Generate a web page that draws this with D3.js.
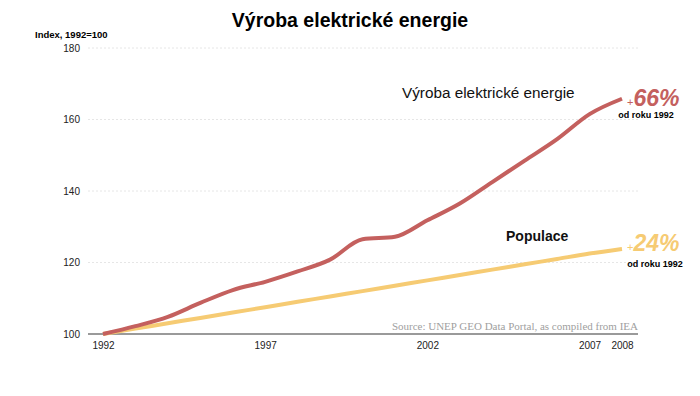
<!DOCTYPE html>
<html>
<head>
<meta charset="utf-8">
<script src="https://cdn.jsdelivr.net/npm/d3@7"></script>
<style>
  body { margin: 0; background: #fff; }
  text { font-family: "Liberation Sans", Arial, sans-serif; }
</style>
</head>
<body>
<svg id="chart" width="700" height="396"></svg>
<script>
var years = [1992, 1993, 1994, 1995, 1996, 1997, 1998, 1999, 2000,
             2001, 2002, 2003, 2004, 2005, 2006, 2007, 2008];
var elektrina = [100, 102.2, 104.8, 108.7, 112.3, 114.6, 117.5, 120.8, 126.5,
                 127.2, 131.8, 136.5, 142.5, 148.5, 154.5, 161.5, 165.8];
var populace = [100, 101.5, 103, 104.5, 106, 107.5, 109, 110.5, 112,
                113.5, 115, 116.5, 118, 119.5, 121, 122.5, 123.8];
var yTicks = [100, 120, 140, 160, 180];
var xTicks = [1992, 1997, 2002, 2007, 2008];

var svg = d3.select('#chart');

var x = d3.scaleLinear().domain([1992, 2008]).range([103, 622]);
var y = d3.scaleLinear().domain([100, 180]).range([334, 48]);

// title
svg.append('text').attr('x', 350).attr('y', 27).attr('text-anchor', 'middle')
  .style('font-size', '19.5px').style('font-weight', 'bold').text('Výroba elektrické energie');

svg.append('text').attr('x', 35).attr('y', 38)
  .style('font-size', '9.5px').style('font-weight', 'bold').text('Index, 1992=100');

// grid
svg.append('g').selectAll('line').data(yTicks.slice(1)).enter().append('line')
  .attr('x1', 88).attr('x2', 640)
  .attr('y1', function(d) { return y(d); }).attr('y2', function(d) { return y(d); })
  .attr('stroke', '#e6e6e6').attr('stroke-dasharray', '2,2');

// y axis
var yAxis = d3.axisLeft(y).tickValues(yTicks).tickSize(0).tickPadding(0);
var gy = svg.append('g').attr('transform', 'translate(80,0)').call(yAxis);
gy.select('.domain').remove();
gy.selectAll('text').style('font-size', '10px').style('font-family', '"Liberation Sans", Arial, sans-serif').attr('fill', '#222');

// x axis
var xAxis = d3.axisBottom(x).tickValues(xTicks).tickFormat(d3.format('d')).tickSize(0).tickPadding(0);
var gx = svg.append('g').attr('transform', 'translate(0,342)').call(xAxis);
gx.select('.domain').remove();
gx.selectAll('text').style('font-size', '10px').style('font-family', '"Liberation Sans", Arial, sans-serif').attr('fill', '#222');

// source
svg.append('text').attr('x', 638).attr('y', 330).attr('text-anchor', 'end')
  .style('font-family', '"Liberation Serif", "DejaVu Serif", serif').style('font-size', '11px')
  .attr('fill', '#a0a0a0').text('Source: UNEP GEO Data Portal, as compiled from IEA');

// baseline
svg.append('line').attr('x1', 88).attr('x2', 638).attr('y1', y(100)).attr('y2', y(100))
  .attr('stroke', '#9a9a9a').attr('stroke-width', 2);

var line = d3.line().curve(d3.curveMonotoneX)
  .x(function(d, i) { return x(years[i]); })
  .y(function(d) { return y(d); });

svg.append('path').datum(populace).attr('d', line)
  .attr('fill', 'none').attr('stroke', '#f6cb73').attr('stroke-width', 4);
svg.append('path').datum(elektrina).attr('d', line)
  .attr('fill', 'none').attr('stroke', '#c4605e').attr('stroke-width', 4);

// labels
svg.append('text').attr('x', 402).attr('y', 98)
  .style('font-size', '15.3px').attr('fill', '#111').text('Výroba elektrické energie');
svg.append('text').attr('x', 506).attr('y', 241)
  .style('font-size', '14px').style('font-weight', 'bold').attr('fill', '#111').text('Populace');

function pct(xx, yy, val, color) {
  var t = svg.append('text').attr('x', xx).attr('y', yy).attr('fill', color);
  t.append('tspan').style('font-size', '11px').text('+');
  t.append('tspan').style('font-size', '23px').style('font-weight', 'bold')
    .style('font-style', 'italic').text(val);
}
pct(627, 106, '66%', '#c4605e');
pct(627, 251, '24%', '#f6cb73');

svg.append('text').attr('x', 646).attr('y', 118).attr('text-anchor', 'middle')
  .style('font-size', '9px').style('font-weight', 'bold').text('od roku 1992');
svg.append('text').attr('x', 655).attr('y', 267).attr('text-anchor', 'middle')
  .style('font-size', '9px').style('font-weight', 'bold').text('od roku 1992');
</script>
</body>
</html>
